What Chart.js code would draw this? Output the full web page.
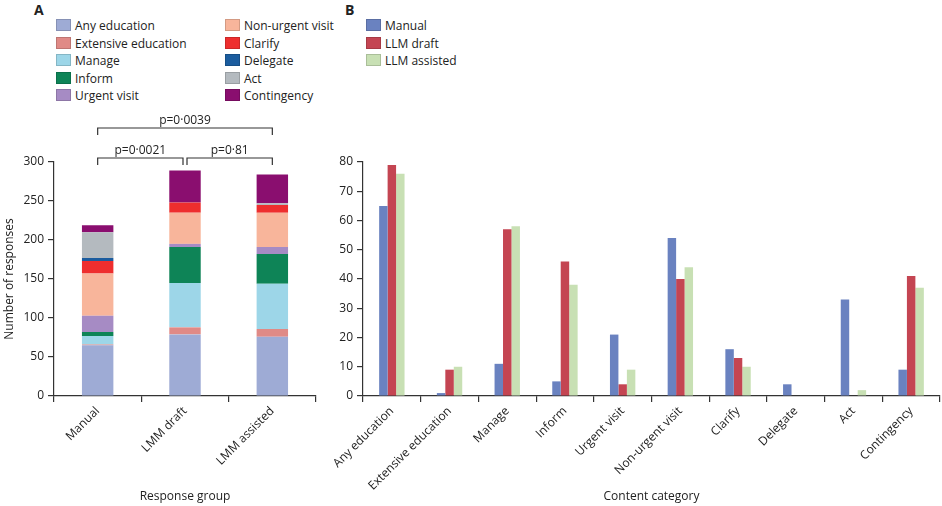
<!DOCTYPE html>
<html><head><meta charset="utf-8">
<script src="https://cdn.jsdelivr.net/npm/chart.js@4"></script>
<style>
body{margin:0;width:942px;height:506px;background:#fff;font-family:"Open Sans",sans-serif;color:#222;position:relative;overflow:hidden}
.pl{position:absolute;font-weight:bold;font-size:14px}
.lg{position:absolute;font-size:12px;line-height:17.5px}
.lg div{white-space:nowrap}
.lg span{display:inline-block;width:13px;height:10px;margin-right:4px;vertical-align:-1px;border:1px solid rgba(0,0,0,0.15)}
canvas{position:absolute}
</style></head><body>
<div class="pl" style="left:34px;top:0px">A</div>
<div class="pl" style="left:345px;top:0px">B</div>
<div class="lg" id="lgA1" style="left:56px;top:17px"></div>
<div class="lg" id="lgA2" style="left:225px;top:17px"></div>
<div class="lg" id="lgB" style="left:366px;top:17px"></div>
<div style="position:absolute;left:0;top:110px;width:330px;height:396px"><canvas id="cA"></canvas></div>
<div style="position:absolute;left:330px;top:110px;width:612px;height:396px"><canvas id="cB"></canvas></div>
<script>
const groups = ["Manual", "LMM draft", "LMM assisted"];
const categories = ["Any education", "Extensive education", "Manage", "Inform", "Urgent visit",
  "Non-urgent visit", "Clarify", "Delegate", "Act", "Contingency"];
const manual = [65, 1, 11, 5, 21, 54, 16, 4, 33, 9];
const llmDraft = [79, 9, 57, 46, 4, 40, 13, 0, 0, 41];
const llmAssisted = [76, 10, 58, 38, 9, 44, 10, 0, 2, 37];
const catColors = ["#9eabd5", "#e08a86", "#9dd6e8", "#0e8457", "#a68bc4",
  "#f8b59b", "#ee2e2e", "#1b5c9e", "#b4babf", "#8a0e6f"];
const seriesNames = ["Manual", "LLM draft", "LLM assisted"];
const seriesColors = ["#6a82c0", "#c44552", "#c8e0b4"];
const pValues = ["p=0·0021", "p=0·81", "p=0·0039"];

function legend(id, names, cols) {
  document.getElementById(id).innerHTML = names.map((n, i) =>
    `<div><span style="background:${cols[i]}"></span>${n}</div>`).join("");
}
legend("lgA1", categories.slice(0, 5), catColors.slice(0, 5));
legend("lgA2", categories.slice(5), catColors.slice(5));
legend("lgB", seriesNames, seriesColors);

Chart.defaults.font.family = '"Open Sans", sans-serif';
Chart.defaults.font.size = 12;
Chart.defaults.color = "#222";
Chart.defaults.animation = false;

const axisCommon = {
  border: { color: "#333", width: 1.2 },
  grid: { drawOnChartArea: false, color: "#333", tickLength: 6, lineWidth: 1.2 }
};

const brackets = {
  id: "brackets",
  afterDraw(chart) {
    const ctx = chart.ctx, x = chart.scales.x, top = chart.chartArea.top;
    const c = [0, 1, 2].map(i => x.getPixelForValue(i));
    ctx.save();
    ctx.strokeStyle = "#333"; ctx.lineWidth = 1.2; ctx.fillStyle = "#222";
    ctx.font = '12px "Open Sans", sans-serif'; ctx.textAlign = "center"; ctx.textBaseline = "bottom";
    const br = (x1, x2, y, t) => {
      ctx.beginPath(); ctx.moveTo(x1, y + 7); ctx.lineTo(x1, y); ctx.lineTo(x2, y); ctx.lineTo(x2, y + 7); ctx.stroke();
      ctx.fillText(t, (x1 + x2) / 2, y - 1);
    };
    br(c[0], c[1] - 2, top - 4, pValues[0]);
    br(c[1] + 2, c[2], top - 4, pValues[1]);
    br(c[0], c[2], top - 34, pValues[2]);
    ctx.restore();
  }
};

new Chart(document.getElementById("cA"), {
  type: "bar",
  data: {
    labels: groups,
    datasets: categories.map((n, i) => ({
      label: n, data: [manual[i], llmDraft[i], llmAssisted[i]],
      backgroundColor: catColors[i], barPercentage: 0.36, categoryPercentage: 1
    }))
  },
  options: {
    responsive: true, maintainAspectRatio: false,
    layout: { padding: { top: 52, right: 14, bottom: 0 } },
    plugins: { legend: { display: false }, tooltip: { enabled: false } },
    scales: {
      x: { ...axisCommon, stacked: true, grid: { ...axisCommon.grid, offset: true },
        ticks: { maxRotation: 45, minRotation: 45, padding: 2 },
        title: { display: true, text: "Response group", padding: { top: 4, bottom: 2 } },
        afterFit(s) { s.height = 110; } },
      y: { ...axisCommon, stacked: true, min: 0, max: 300,
        ticks: { stepSize: 50, padding: 4 },
        title: { display: true, text: "Number of responses", padding: 2 },
        afterFit(s) { s.width = 54; } }
    }
  },
  plugins: [brackets]
});

new Chart(document.getElementById("cB"), {
  type: "bar",
  data: {
    labels: categories,
    datasets: [manual, llmDraft, llmAssisted].map((d, i) => ({
      label: seriesNames[i], data: d, backgroundColor: seriesColors[i],
      barPercentage: 1, categoryPercentage: 0.44
    }))
  },
  options: {
    responsive: true, maintainAspectRatio: false,
    layout: { padding: { top: 52, right: 2, bottom: 0 } },
    plugins: { legend: { display: false }, tooltip: { enabled: false } },
    scales: {
      x: { ...axisCommon, grid: { ...axisCommon.grid, offset: true },
        ticks: { maxRotation: 45, minRotation: 45, padding: 2 },
        title: { display: true, text: "Content category", padding: { top: 4, bottom: 2 } },
        afterFit(s) { s.height = 110; } },
      y: { ...axisCommon, min: 0, max: 80, ticks: { stepSize: 10, padding: 4 },
        afterFit(s) { s.width = 33; } }
    }
  }
});
</script>
</body></html>
